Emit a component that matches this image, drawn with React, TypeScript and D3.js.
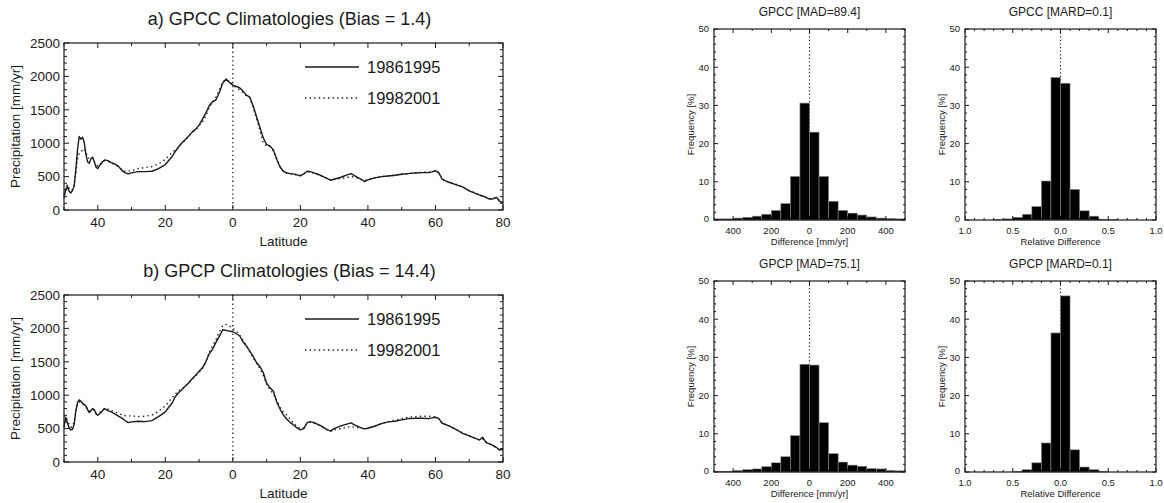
import * as d3 from "d3";

// latitude grid shared by the zonal-mean curves (negative = south)
const latGrid = [
  -50, -49.5, -49, -48.5, -48, -47.5, -47, -46.5, -46, -45.5, -45, -44.5, -44, -43.5, -43, -42.5, -42, -41.5, -41, -40.5,
  -40, -39, -38, -37, -36, -35, -34, -33, -32, -31, -30, -28, -26, -24, -22, -20, -19, -18, -17, -16,
  -15, -14, -13, -12, -11, -10, -9, -8, -7, -6, -5, -4, -3, -2, -1, 0, 1, 2, 3, 4,
  5, 6, 7, 8, 9, 10, 11, 12, 13, 14, 15, 16, 17, 18, 19, 20, 21, 22, 23, 24,
  26, 28, 29, 30, 32, 34, 35, 36, 38, 39, 40, 42, 44, 46, 48, 50, 52, 54, 56, 58,
  59, 60, 61, 62, 64, 66, 68, 70, 72, 73, 74, 75, 76, 77, 78, 79, 80,
];

const gpcc8695 = [
  180, 300, 360, 280, 255, 290, 360, 600, 900, 1100, 1060, 1090, 1010, 830, 720, 700, 770, 790, 720, 640,
  620, 700, 750, 740, 710, 690, 660, 600, 560, 540, 555, 575, 575, 580, 620, 680, 740, 800, 880, 950,
  1010, 1060, 1110, 1170, 1210, 1270, 1360, 1450, 1560, 1620, 1650, 1760, 1900, 1960, 1910, 1870, 1850, 1830, 1780, 1720,
  1690, 1560, 1400, 1240, 1080, 980, 960, 900, 760, 640, 580, 555, 545, 540, 525, 510, 540, 580, 575, 555,
  520, 470, 445, 460, 490, 530, 545, 515, 460, 425, 450, 480, 500, 510, 520, 535, 545, 555, 560, 560,
  570, 590, 555, 460, 415, 380, 345, 285, 245, 225, 210, 185, 165, 165, 190, 130, 110,
];

const gpcc9801 = [
  230, 330, 380, 330, 290, 300, 380, 560, 760, 850, 870, 900, 920, 860, 800, 760, 780, 770, 720, 680,
  660, 690, 740, 730, 700, 680, 650, 610, 580, 580, 590, 620, 635, 650, 690, 760, 810, 860, 900, 950,
  1000, 1050, 1110, 1160, 1200, 1260, 1320, 1410, 1540, 1610, 1690, 1800, 1920, 1950, 1920, 1880, 1830, 1800, 1760, 1710,
  1680, 1540, 1370, 1200, 1000, 960, 950, 880, 760, 650, 575, 550, 540, 540, 520, 520, 545, 570, 570, 550,
  515, 470, 450, 465, 470, 490, 500, 490, 455, 440, 455, 480, 500, 510, 520, 535, 545, 555, 565, 565,
  575, 585, 560, 465, 415, 385, 345, 290, 250, 225, 205, 190, 170, 170, 180, 140, 110,
];

const gpcp8695 = [
  520, 670, 590, 510, 480, 490, 560, 760, 890, 930, 910, 880, 860, 840, 780, 740, 770, 800, 780, 720,
  700, 740, 800, 770, 750, 720, 690, 660, 625, 590, 600, 610, 605, 620, 680, 750, 820, 880, 980, 1040,
  1090, 1140, 1190, 1250, 1300, 1360, 1410, 1500, 1620, 1690, 1790, 1880, 1980, 1970, 1960, 1950, 1920, 1890, 1800, 1740,
  1660, 1580, 1490, 1430, 1340, 1180, 1110, 1060, 900, 790, 700, 640, 590, 555, 510, 480, 500, 590, 605, 590,
  545, 480, 465, 500, 540, 570, 585, 555, 510, 495, 505, 535, 575, 600, 610, 630, 650, 655, 655, 650,
  660, 670, 650, 580, 540, 490, 430, 390, 350, 330, 370, 290, 270, 250, 220, 180, 200,
];

const gpcp9801 = [
  700, 680, 620, 560, 520, 530, 600, 760, 860, 900, 890, 870, 850, 820, 790, 760, 780, 790, 770, 730,
  720, 760, 800, 790, 770, 750, 730, 710, 695, 690, 690, 680, 685, 700, 760, 840, 900, 960, 1020, 1070,
  1100, 1140, 1180, 1240, 1290, 1340, 1400, 1500, 1640, 1740, 1830, 1950, 2040, 2060, 2040, 2000, 1960, 1900, 1820, 1740,
  1650, 1560, 1480, 1400, 1300, 1170, 1080, 1020, 920, 820, 740, 700, 640, 580, 530, 500, 510, 580, 600, 580,
  540, 480, 460, 480, 500, 520, 530, 520, 505, 495, 505, 540, 575, 605, 625, 650, 670, 680, 685, 685,
  680, 675, 650, 580, 540, 490, 440, 390, 350, 330, 345, 300, 275, 245, 210, 180, 180,
];

// histogram bins (lower edges) and frequencies [%]
const madBinLower = [-500, -450, -400, -350, -300, -250, -200, -150, -100, -50, 0, 50, 100, 150, 200, 250, 300, 350, 400, 450];
const gpccMadFreq = [0.3, 0.3, 0.5, 0.7, 1.0, 1.5, 2.5, 4.3, 11.4, 30.6, 23.0, 11.4, 4.9, 2.5, 1.8, 1.3, 0.8, 0.5, 0.4, 0.3];
const gpcpMadFreq = [0.2, 0.2, 0.4, 0.6, 0.8, 1.4, 2.4, 4.0, 9.5, 28.2, 28.0, 12.9, 4.8, 2.6, 1.8, 1.5, 0.9, 0.8, 0.4, 0.3];

const mardBinLower = [-1.0, -0.9, -0.8, -0.7, -0.6, -0.5, -0.4, -0.3, -0.2, -0.1, 0.0, 0.1, 0.2, 0.3, 0.4, 0.5, 0.6, 0.7, 0.8, 0.9];
const gpccMardFreq = [0, 0, 0, 0.1, 0.3, 0.7, 1.5, 3.5, 10.2, 37.3, 35.8, 8.0, 2.4, 1.0, 0.2, 0.1, 0, 0, 0, 0];
const gpcpMardFreq = [0, 0, 0, 0, 0, 0.1, 0.6, 2.4, 7.6, 36.4, 46.1, 5.8, 1.3, 0.6, 0.1, 0, 0, 0, 0, 0];

const latTicks = [-40, -20, 0, 20, 40, 60, 80];
const precipTicks = [0, 500, 1000, 1500, 2000, 2500];
const freqTicks = [0, 10, 20, 30, 40, 50];
const madTicks = [-400, -200, 0, 200, 400];
const mardTicks = [-1.0, -0.5, 0.0, 0.5, 1.0];

const seriesNames = ["19861995", "19982001"];

const FONT = "'Liberation Sans', Arial, Helvetica, sans-serif";
const INK = "#1a1a1a";

function LinePanel({ top, title, solid, dotted }: { top: number; title: string; solid: number[]; dotted: number[] }) {
  const left = 64;
  const right = 503;
  const bottom = top + 167;
  const x = d3.scaleLinear().domain([-50, 80]).range([left, right]);
  const y = d3.scaleLinear().domain([0, 2500]).range([bottom, top]);
  const line = d3
    .line<number>()
    .x((_, i) => x(latGrid[i]))
    .y((d) => y(d))
    .curve(d3.curveLinear);
  const minorX = d3.range(-50, 81, 10);
  const minorY = d3.range(0, 2501, 100);

  return (
    <g>
      <text x={(left + right) / 2 + 6} y={top - 18} textAnchor="middle" fontSize={18} fill={INK}>
        {title}
      </text>

      {minorX.map((t) => {
        const major = latTicks.includes(t);
        const len = major ? 5 : 3;
        return (
          <g key={`mx${t}`} stroke={INK} strokeWidth={1}>
            <line x1={x(t)} x2={x(t)} y1={bottom} y2={bottom - len} />
            <line x1={x(t)} x2={x(t)} y1={top} y2={top + len} />
          </g>
        );
      })}
      {minorY.map((t) => {
        const major = t % 500 === 0;
        const len = major ? 5 : 3;
        return (
          <g key={`my${t}`} stroke={INK} strokeWidth={1}>
            <line x1={left} x2={left + len} y1={y(t)} y2={y(t)} />
            <line x1={right} x2={right - len} y1={y(t)} y2={y(t)} />
          </g>
        );
      })}

      {latTicks.map((t) => (
        <text key={`lx${t}`} x={x(t)} y={bottom + 17} textAnchor="middle" fontSize={13.5} fill={INK}>
          {Math.abs(t)}
        </text>
      ))}
      {precipTicks.map((t) => (
        <text key={`ly${t}`} x={left - 4} y={y(t)} dy="0.36em" textAnchor="end" fontSize={13.5} fill={INK}>
          {t}
        </text>
      ))}
      <text x={(left + right) / 2} y={bottom + 36} textAnchor="middle" fontSize={13.5} fill={INK}>
        Latitude
      </text>
      <text
        transform={`translate(20, ${(top + bottom) / 2}) rotate(-90)`}
        textAnchor="middle"
        fontSize={13.5}
        fill={INK}
      >
        Precipitation [mm/yr]
      </text>

      <line x1={x(0)} x2={x(0)} y1={top} y2={bottom} stroke={INK} strokeWidth={1.3} strokeDasharray="1.3 3" />

      <path d={line(dotted) ?? ""} fill="none" stroke={INK} strokeWidth={1.4} strokeDasharray="1.4 3.2" />
      <path d={line(solid) ?? ""} fill="none" stroke={INK} strokeWidth={1.4} strokeLinejoin="round" />

      <rect x={left} y={top} width={right - left} height={bottom - top} fill="none" stroke={INK} strokeWidth={1.2} />

      <line x1={305} x2={359} y1={top + 24} y2={top + 24} stroke={INK} strokeWidth={1.4} />
      <text x={367} y={top + 30} fontSize={16.5} fill={INK}>
        {seriesNames[0]}
      </text>
      <line x1={305} x2={359} y1={top + 55} y2={top + 55} stroke={INK} strokeWidth={1.4} strokeDasharray="1.4 3.2" />
      <text x={367} y={top + 61} fontSize={16.5} fill={INK}>
        {seriesNames[1]}
      </text>
    </g>
  );
}

function HistPanel({
  left,
  top,
  title,
  xLabel,
  binLower,
  freq,
  domain,
  ticks,
  minorStep,
  fmt,
}: {
  left: number;
  top: number;
  title: string;
  xLabel: string;
  binLower: number[];
  freq: number[];
  domain: [number, number];
  ticks: number[];
  minorStep: number;
  fmt: (v: number) => string;
}) {
  const right = left + 191;
  const bottom = top + 191;
  const x = d3.scaleLinear().domain(domain).range([left, right]);
  const y = d3.scaleLinear().domain([0, 50]).range([bottom, top]);
  const binWidth = binLower[1] - binLower[0];
  const minorX = d3.range(domain[0], domain[1] + minorStep / 2, minorStep);
  const minorY = d3.range(0, 51, 2);

  return (
    <g>
      <text x={(left + right) / 2} y={top - 13} textAnchor="middle" fontSize={12} fill={INK}>
        {title}
      </text>

      <line x1={x(0)} x2={x(0)} y1={top} y2={bottom} stroke={INK} strokeWidth={1.2} strokeDasharray="1.2 2.4" />

      {binLower.map((b, i) =>
        freq[i] > 0 ? (
          <rect
            key={`bar${i}`}
            x={x(b)}
            y={y(freq[i])}
            width={x(b + binWidth) - x(b)}
            height={bottom - y(freq[i])}
            fill="#000"
            stroke="#8a8a8a"
            strokeWidth={0.6}
          />
        ) : null,
      )}

      {minorX.map((t, i) => {
        const major = ticks.some((m) => Math.abs(m - t) < 1e-6);
        const len = major ? 4 : 2;
        return (
          <g key={`hx${i}`} stroke={INK} strokeWidth={1}>
            <line x1={x(t)} x2={x(t)} y1={bottom} y2={bottom - len} />
            <line x1={x(t)} x2={x(t)} y1={top} y2={top + len} />
          </g>
        );
      })}
      {minorY.map((t) => {
        const len = t % 10 === 0 ? 4 : 2;
        return (
          <g key={`hy${t}`} stroke={INK} strokeWidth={1}>
            <line x1={left} x2={left + len} y1={y(t)} y2={y(t)} />
            <line x1={right} x2={right - len} y1={y(t)} y2={y(t)} />
          </g>
        );
      })}

      <rect x={left} y={top} width={right - left} height={bottom - top} fill="none" stroke={INK} strokeWidth={1.2} />

      {ticks.map((t) => (
        <text key={`tx${t}`} x={x(t)} y={bottom + 14} textAnchor="middle" fontSize={9.5} fill={INK}>
          {fmt(t)}
        </text>
      ))}
      {freqTicks.map((t) => (
        <text
          key={`ty${t}`}
          x={left - 5}
          y={y(t)}
          dy={t === 0 ? "0.2em" : "0.36em"}
          textAnchor="end"
          fontSize={9.5}
          fill={INK}
        >
          {t}
        </text>
      ))}
      <text x={(left + right) / 2} y={bottom + 25} textAnchor="middle" fontSize={9.5} fill={INK}>
        {xLabel}
      </text>
      <text
        transform={`translate(${left - 20}, ${(top + bottom) / 2}) rotate(-90)`}
        textAnchor="middle"
        fontSize={9.5}
        fill={INK}
      >
        Frequency [%]
      </text>
    </g>
  );
}

export default function App() {
  const width = 1164;
  const height = 503;
  const fmtMad = (v: number) => String(Math.abs(v));
  const fmtMard = (v: number) => Math.abs(v).toFixed(1);

  return (
    <svg
      width={width}
      height={height}
      style={{ position: "absolute", left: 0, top: 0, background: "#fff", fontFamily: FONT }}
    >
      <LinePanel top={43} title="a) GPCC Climatologies (Bias = 1.4)" solid={gpcc8695} dotted={gpcc9801} />
      <LinePanel top={295} title="b) GPCP Climatologies (Bias = 14.4)" solid={gpcp8695} dotted={gpcp9801} />

      <HistPanel
        left={714}
        top={29}
        title="GPCC [MAD=89.4]"
        xLabel="Difference [mm/yr]"
        binLower={madBinLower}
        freq={gpccMadFreq}
        domain={[-500, 500]}
        ticks={madTicks}
        minorStep={100}
        fmt={fmtMad}
      />
      <HistPanel
        left={965}
        top={29}
        title="GPCC [MARD=0.1]"
        xLabel="Relative Difference"
        binLower={mardBinLower}
        freq={gpccMardFreq}
        domain={[-1, 1]}
        ticks={mardTicks}
        minorStep={0.1}
        fmt={fmtMard}
      />
      <HistPanel
        left={714}
        top={281}
        title="GPCP [MAD=75.1]"
        xLabel="Difference [mm/yr]"
        binLower={madBinLower}
        freq={gpcpMadFreq}
        domain={[-500, 500]}
        ticks={madTicks}
        minorStep={100}
        fmt={fmtMad}
      />
      <HistPanel
        left={965}
        top={281}
        title="GPCP [MARD=0.1]"
        xLabel="Relative Difference"
        binLower={mardBinLower}
        freq={gpcpMardFreq}
        domain={[-1, 1]}
        ticks={mardTicks}
        minorStep={0.1}
        fmt={fmtMard}
      />
    </svg>
  );
}
